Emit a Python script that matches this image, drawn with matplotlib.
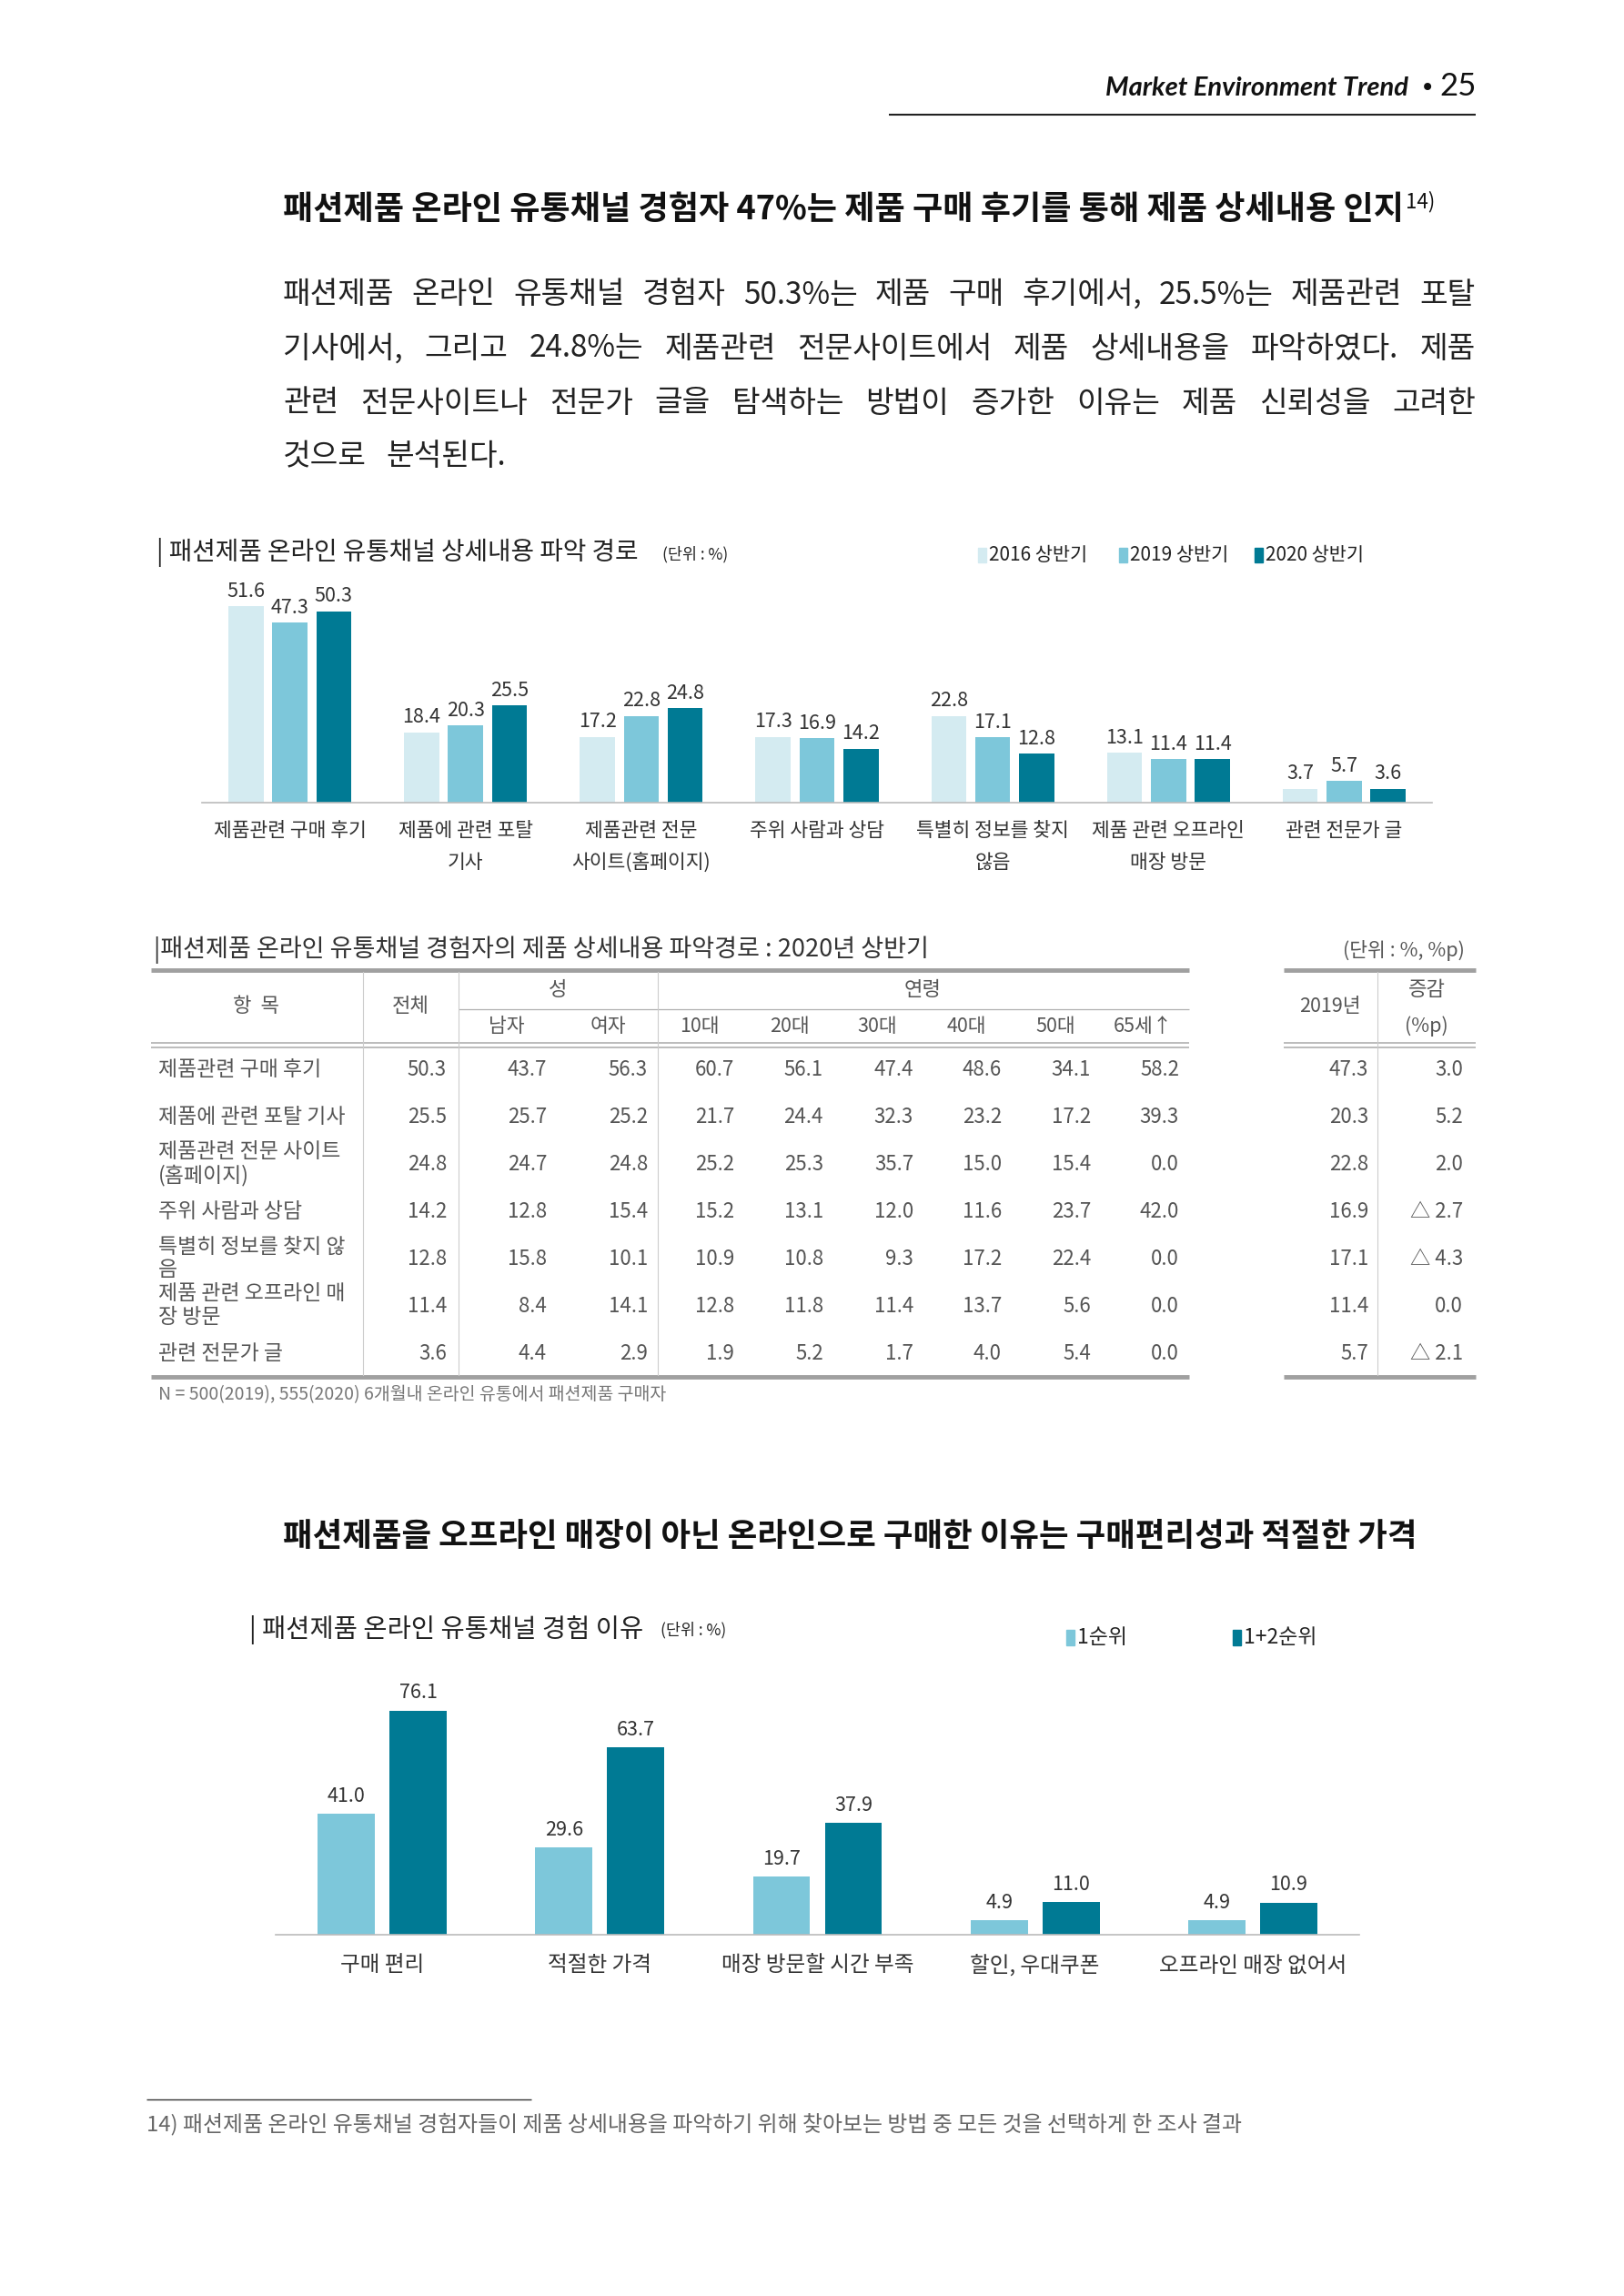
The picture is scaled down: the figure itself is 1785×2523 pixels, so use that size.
import numpy as np
import matplotlib
matplotlib.use('Agg')
import matplotlib.pyplot as plt
from matplotlib.patches import Rectangle

plt.rcParams['font.family'] = ['Noto Sans CJK KR', 'DejaVu Sans']
NUM_FONT = ['Noto Sans CJK KR', 'DejaVu Sans']
HEAD_FONT = ['Lato', 'DejaVu Sans']

W, H = 1785, 2523
C_LIGHT = '#D4EBF1'
C_MID = '#7DC7DA'
C_DARK = '#007A94'

# 상세내용 파악 경로 (막대그래프)
path_cats = ['제품관련 구매 후기', '제품에 관련 포탈\n기사', '제품관련 전문\n사이트(홈페이지)',
             '주위 사람과 상담', '특별히 정보를 찾지\n않음', '제품 관련 오프라인\n매장 방문', '관련 전문가 글']
v2016 = [51.6, 18.4, 17.2, 17.3, 22.8, 13.1, 3.7]
v2019 = [47.3, 20.3, 22.8, 16.9, 17.1, 11.4, 5.7]
v2020 = [50.3, 25.5, 24.8, 14.2, 12.8, 11.4, 3.6]
path_series = ['2016 상반기', '2019 상반기', '2020 상반기']

# 2020년 상반기 표
items = ['제품관련 구매 후기', '제품에 관련 포탈 기사', '제품관련 전문 사이트\n(홈페이지)', '주위 사람과 상담',
         '특별히 정보를 찾지 않\n음', '제품 관련 오프라인 매\n장 방문', '관련 전문가 글']
total = [50.3, 25.5, 24.8, 14.2, 12.8, 11.4, 3.6]
male = [43.7, 25.7, 24.7, 12.8, 15.8, 8.4, 4.4]
female = [56.3, 25.2, 24.8, 15.4, 10.1, 14.1, 2.9]
age10 = [60.7, 21.7, 25.2, 15.2, 10.9, 12.8, 1.9]
age20 = [56.1, 24.4, 25.3, 13.1, 10.8, 11.8, 5.2]
age30 = [47.4, 32.3, 35.7, 12.0, 9.3, 11.4, 1.7]
age40 = [48.6, 23.2, 15.0, 11.6, 17.2, 13.7, 4.0]
age50 = [34.1, 17.2, 15.4, 23.7, 22.4, 5.6, 5.4]
age65 = [58.2, 39.3, 0.0, 42.0, 0.0, 0.0, 0.0]
y2019 = [47.3, 20.3, 22.8, 16.9, 17.1, 11.4, 5.7]
sub_heads = ['남자', '여자', '10대', '20대', '30대', '40대', '50대', '65세↑']

# 온라인 유통채널 경험 이유
reasons = ['구매 편리', '적절한 가격', '매장 방문할 시간 부족', '할인, 우대쿠폰', '오프라인 매장 없어서']
rank1 = [41.0, 29.6, 19.7, 4.9, 4.9]
rank12 = [76.1, 63.7, 37.9, 11.0, 10.9]
reason_series = ['1순위', '1+2순위']

fig = plt.figure(figsize=(W / 100, H / 100), dpi=100)
fig.patch.set_facecolor('white')
bg = fig.add_axes([0, 0, 1, 1])
bg.set_xlim(0, W)
bg.set_ylim(H, 0)
bg.axis('off')


def put(x, y, s, size, color='#333333', ha='left', va='center', weight='normal', **kw):
    return bg.text(x, y, s, fontsize=size, color=color, ha=ha, va=va, fontweight=weight, **kw)


def hline(x0, x1, y, color='#999999', lw=1.0):
    bg.plot([x0, x1], [y, y], color=color, lw=lw, solid_capstyle='butt')


def vline(x, y0, y1, color='#cccccc', lw=0.8):
    bg.plot([x, x], [y0, y1], color=color, lw=lw)


def px_axes(left, top, right, bottom):
    a = fig.add_axes([left / W, 1 - bottom / H, (right - left) / W, (bottom - top) / H])
    a.patch.set_alpha(0)
    return a


def data_to_px(ax, x, y):
    dx, dy = ax.transData.transform((x, y))
    return dx, H - dy


# 머리말
put(1548, 97, 'Market Environment Trend', 21, color='#111111', ha='right', weight='bold',
    style='italic', family=HEAD_FONT)
put(1569, 97, '•', 20, color='#111111', ha='center', family=['DejaVu Sans'])
put(1623, 95, '25', 25, color='#111111', ha='right', family=HEAD_FONT)
hline(977, 1622, 126, color='#222222', lw=1.5)

# 제목 1
t1 = put(311, 230, '패션제품 온라인 유통채널 경험자 47%는 제품 구매 후기를 통해 제품 상세내용 인지', 26,
         color='#111111', weight='bold')

fig.canvas.draw()
renderer = fig.canvas.get_renderer()
bb = t1.get_window_extent(renderer)
put(bb.x1 + 2, 222, '14)', 16, color='#111111')

# 본문 (양쪽 정렬)
para_lines = [
    '패션제품 온라인 유통채널 경험자 50.3%는 제품 구매 후기에서, 25.5%는 제품관련 포탈',
    '기사에서, 그리고 24.8%는 제품관련 전문사이트에서 제품 상세내용을 파악하였다. 제품',
    '관련 전문사이트나 전문가 글을 탐색하는 방법이 증가한 이유는 제품 신뢰성을 고려한',
    '것으로 분석된다.',
]
para_y = [324, 383, 443, 502]
x_left, x_right = 311, 1622
for k, (line, yy) in enumerate(zip(para_lines, para_y)):
    words = line.split(' ')
    objs = [put(x_left, yy, w_, 24, color='#222222') for w_ in words]
    widths = [o.get_window_extent(renderer).width for o in objs]
    if k < len(para_lines) - 1:
        gap = (x_right - x_left - sum(widths)) / (len(words) - 1)
    else:
        gap = 22
    xx = x_left
    for o, wd in zip(objs, widths):
        o.set_x(xx)
        xx += wd + gap

# 차트 1: 상세내용 파악 경로
put(172, 607, '| 패션제품 온라인 유통채널 상세내용 파악 경로', 20, color='#222222')
put(728, 609, '(단위 : %)', 12.5, color='#222222')
for sx, lab, col in zip([1075, 1230, 1379], path_series, [C_LIGHT, C_MID, C_DARK]):
    bg.add_patch(Rectangle((sx, 602), 9, 16, color=col))
    put(sx + 12, 610, lab, 15, color='#222222')

ax1 = px_axes(222, 631, 1574, 882)
x1 = np.arange(len(path_cats))
for off, vals, col in zip([-0.25, 0.0, 0.25], [v2016, v2019, v2020], [C_LIGHT, C_MID, C_DARK]):
    ax1.bar(x1 + off, vals, width=0.2, color=col)
    for xi, v in zip(x1 + off, vals):
        ax1.annotate(f'{v:.1f}', (xi, v), xytext=(0, 4), textcoords='offset points',
                     ha='center', va='bottom', fontsize=15.5, color='#333333', family=NUM_FONT)
ax1.set_xlim(-0.5, len(path_cats) - 0.5)
ax1.set_ylim(0, 60)
for s in ['top', 'right', 'left']:
    ax1.spines[s].set_visible(False)
ax1.spines['bottom'].set_color('#bbbbbb')
ax1.spines['bottom'].set_linewidth(1.2)
ax1.set_xticks([])
ax1.set_yticks([])
for i, lab in enumerate(path_cats):
    px, _ = data_to_px(ax1, i, 0)
    for k, line in enumerate(lab.split('\n')):
        put(px, 913 + 35 * k, line, 15.5, color='#333333', ha='center')

# 표: 2020년 상반기
put(169, 1044, '|패션제품 온라인 유통채널 경험자의 제품 상세내용 파악경로 : 2020년 상반기', 19.5, color='#333333')
put(1610, 1044, '(단위 : %, %p)', 15.5, color='#555555', ha='right')

L0, L1 = 166, 1307
R0, R1 = 1411, 1622
for a, b in [(L0, L1), (R0, R1)]:
    hline(a, b, 1066, color='#a0a0a0', lw=3.5)
    hline(a, b, 1146, color='#b0b0b0', lw=1.2)
    hline(a, b, 1151, color='#b0b0b0', lw=1.2)
    hline(a, b, 1513, color='#a0a0a0', lw=3.5)
hline(504, L1, 1109, color='#b0b0b0', lw=0.9)
for vx in [399, 504, 723]:
    vline(vx, 1068, 1511)
vline(1514, 1068, 1511)

TC = '#555555'
put(282, 1106, '항  목', 16, color=TC, ha='center')
put(451, 1106, '전체', 16, color=TC, ha='center')
put(613, 1088, '성', 16, color=TC, ha='center')
put(1014, 1088, '연령', 16, color=TC, ha='center')
sub_x = [557, 668, 769, 868, 964, 1062, 1160, 1256]
for sx, lab in zip(sub_x, sub_heads):
    put(sx, 1128, lab, 15.5, color=TC, ha='center')
put(1462, 1106, '2019년', 15.5, color=TC, ha='center')
put(1568, 1088, '증감', 16, color=TC, ha='center')
put(1568, 1128, '(%p)', 15.5, color=TC, ha='center')

row_y = [1175, 1227, 1279, 1331, 1383, 1435, 1487]
cols = [total, male, female, age10, age20, age30, age40, age50, age65, y2019]
col_right = [491, 601, 712, 807, 905, 1004, 1101, 1199, 1296, 1504]
for r, yy in enumerate(row_y):
    lines = items[r].split('\n')
    if len(lines) == 1:
        put(174, yy, lines[0], 16.5, color=TC)
    else:
        put(174, yy - 13, lines[0], 16.5, color=TC)
        put(174, yy + 13, lines[1], 16.5, color=TC)
    for c, xr in zip(cols, col_right):
        put(xr, yy, f'{c[r]:.1f}', 16, color=TC, ha='right')
    d = round(total[r] - y2019[r], 1)
    txt = f'△ {abs(d):.1f}' if d < 0 else f'{d:.1f}'
    put(1608, yy, txt, 16, color=TC, ha='right')
put(174, 1533, 'N = 500(2019), 555(2020) 6개월내 온라인 유통에서 패션제품 구매자', 14, color='#777777')

# 제목 2
put(311, 1688, '패션제품을 오프라인 매장이 아닌 온라인으로 구매한 이유는 구매편리성과 적절한 가격', 25.5,
    color='#111111', weight='bold')

# 차트 3: 경험 이유
put(274, 1791, '| 패션제품 온라인 유통채널 경험 이유', 20.5, color='#222222')
put(726, 1791, '(단위 : %)', 12.5, color='#222222')
for sx, lab, col in zip([1172, 1355], reason_series, [C_MID, C_DARK]):
    bg.add_patch(Rectangle((sx, 1791), 9, 17, color=col))
    put(sx + 12, 1800, lab, 16.5, color='#222222')

ax3 = px_axes(303, 1851, 1494, 2126)
x3 = np.arange(len(reasons))
for off, vals, col in zip([-0.165, 0.165], [rank1, rank12], [C_MID, C_DARK]):
    ax3.bar(x3 + off, vals, width=0.263, color=col)
    for xi, v in zip(x3 + off, vals):
        ax3.annotate(f'{v:.1f}', (xi, v), xytext=(0, 6), textcoords='offset points',
                     ha='center', va='bottom', fontsize=15.5, color='#333333', family=NUM_FONT)
ax3.set_xlim(-0.49, len(reasons) - 0.51)
ax3.set_ylim(0, 85)
for s in ['top', 'right', 'left']:
    ax3.spines[s].set_visible(False)
ax3.spines['bottom'].set_color('#bbbbbb')
ax3.spines['bottom'].set_linewidth(1.2)
ax3.set_xticks([])
ax3.set_yticks([])
for i, lab in enumerate(reasons):
    px, _ = data_to_px(ax3, i, 0)
    put(px, 2160, lab, 17, color='#333333', ha='center')

# 각주
hline(161, 584, 2307, color='#333333', lw=1.0)
put(161, 2334, '14) 패션제품 온라인 유통채널 경험자들이 제품 상세내용을 파악하기 위해 찾아보는 방법 중 모든 것을 선택하게 한 조사 결과',
    17.2, color='#666666')

fig.savefig('out.png', dpi=100, facecolor='white')
